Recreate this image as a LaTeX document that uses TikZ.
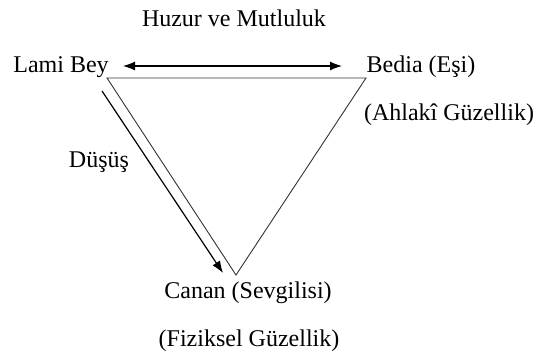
\documentclass[tikz,border=0pt]{standalone}
\usepackage{fontspec}
\setmainfont{Liberation Serif}
\usetikzlibrary{arrows.meta}
\begin{document}
\begin{tikzpicture}[x=1pt,y=-1pt,
  lbl/.style={inner sep=0pt, font=\fontsize{24}{28}\selectfont},
  side/.style={draw=black!80, line width=0.9pt},
  arr/.style={line width=1.2pt, -{Latex[length=12pt,width=9pt]}},
  darr/.style={line width=1.2pt, {Latex[length=12pt,width=9pt]}-{Latex[length=12pt,width=9pt]}}]
  \useasboundingbox (0,0) rectangle (539,363);
  % labels
  \node[lbl] (title) at (234,18) {Huzur ve Mutluluk};
  \node[lbl] (lami) at (61,67) {Lami Bey};
  \node[lbl] (bedia) at (421,67) {Bedia (Eşi)};
  \node[lbl] (ahlak) at (449,115) {(Ahlakî Güzellik)};
  \node[lbl] (dusus) at (99,162) {Düşüş};
  \node[lbl] (canan) at (248,293) {Canan (Sevgilisi)};
  \node[lbl] (fizik) at (249,341) {(Fiziksel Güzellik)};
  % triangle corners
  \coordinate (tl) at (107,78);
  \coordinate (tr) at (366,78);
  \coordinate (bt) at (236,275);
  \draw[side] (tl) -- (tr) -- (bt) -- cycle;
  % relation arrows
  \coordinate (ha) at (123,66);
  \coordinate (hb) at (342,66);
  \draw[darr] (ha) -- (hb);
  \coordinate (fa) at (102,91);
  \coordinate (fb) at (223,273);
  \draw[arr] (fa) -- (fb);
\end{tikzpicture}
\end{document}
